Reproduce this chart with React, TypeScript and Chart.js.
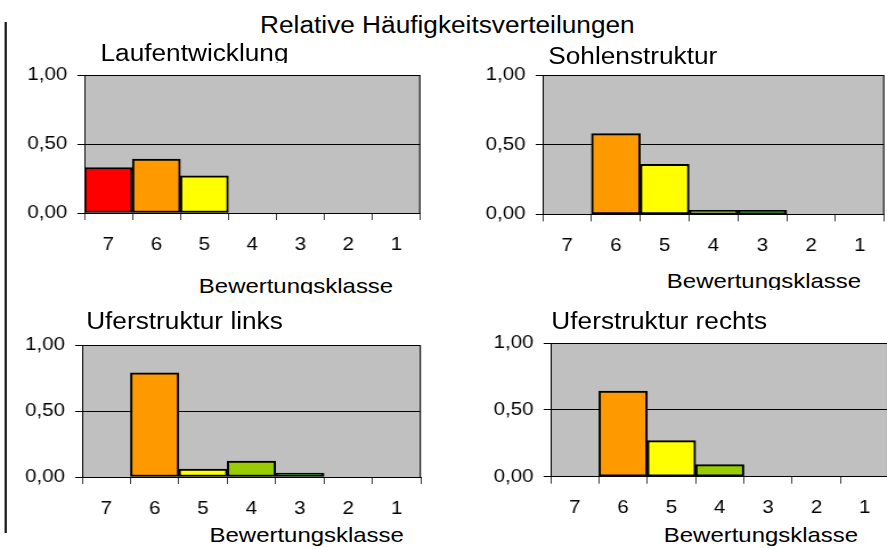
import { useEffect, useRef } from "react";
import { Chart, registerables } from "chart.js";
Chart.register(...registerables);

// ---------- data ----------
const classes = ["7", "6", "5", "4", "3", "2", "1"];
const classColors = ["#FF0000", "#FF9900", "#FFFF00", "#99CC00", "#008000", "#33CCFF", "#0000FF"];
const yTickValues = [0, 0.5, 1];
const mainTitle = "Relative Häufigkeitsverteilungen";
const axisTitle = "Bewertungsklasse";
const laufentwicklung = [0.33, 0.39, 0.27, 0, 0, 0, 0];
const sohlenstruktur = [0, 0.58, 0.36, 0.03, 0.03, 0, 0];
const uferstrukturLinks = [0, 0.79, 0.06, 0.12, 0.03, 0, 0];
const uferstrukturRechts = [0, 0.64, 0.27, 0.09, 0, 0, 0];

// ---------- layout (real px; x is divided by S inside the stretched frame) ----------
const S = 1.14;
const FONT = "'Liberation Sans', Arial, Helvetica, sans-serif";
const WY = 70;
const PT = 22;
const HXMIN = 44;

type Box = { l: number; r: number; t: number; b: number };
type Label = { cx: number; base: number; clip?: number; fs: number };
type Panel = { title: string; values: number[]; plot: Box; titleLbl: Label; axisLbl: Label };

const panels: Panel[] = [
  {
    title: "Laufentwicklung",
    values: laufentwicklung,
    plot: { l: 84, r: 420, t: 75, b: 213 },
    titleLbl: { cx: 194.5, base: 61.7, clip: 63.5, fs: 23 },
    axisLbl: { cx: 296, base: 292.5, clip: 294.5, fs: 21 },
  },
  {
    title: "Sohlenstruktur",
    values: sohlenstruktur,
    plot: { l: 542.3, r: 884, t: 75.3, b: 214.7 },
    titleLbl: { cx: 632.8, base: 64, fs: 23 },
    axisLbl: { cx: 764, base: 288, clip: 290, fs: 21 },
  },
  {
    title: "Uferstruktur links",
    values: uferstrukturLinks,
    plot: { l: 82, r: 420.7, t: 345, b: 477 },
    titleLbl: { cx: 184.5, base: 329.5, fs: 23 },
    axisLbl: { cx: 306.7, base: 541.7, clip: 546, fs: 21 },
  },
  {
    title: "Uferstruktur rechts",
    values: uferstrukturRechts,
    plot: { l: 550.7, r: 889, t: 343.3, b: 477 },
    titleLbl: { cx: 659.2, base: 329.5, fs: 23 },
    axisLbl: { cx: 761, base: 541.7, clip: 546, fs: 21 },
  },
];

const plotFrame = {
  id: "plotFrame",
  beforeDraw(chart: any) {
    const { ctx, chartArea: a } = chart;
    ctx.save();
    ctx.fillStyle = "#C0C0C0";
    ctx.fillRect(a.left, a.top, a.right - a.left, a.bottom - a.top);
    ctx.restore();
  },
  beforeDatasetsDraw(chart: any) {
    const { ctx, chartArea: a } = chart;
    ctx.save();
    ctx.strokeStyle = "#1a1a1a";
    ctx.lineWidth = 1.2;
    ctx.beginPath();
    ctx.moveTo(a.right - 0.5, a.top);
    ctx.lineTo(a.right - 0.5, a.bottom);
    ctx.stroke();
    ctx.restore();
  },
};

function PanelChart({ panel }: { panel: Panel }) {
  const ref = useRef<HTMLCanvasElement>(null);
  const l = panel.plot.l / S;
  const r = panel.plot.r / S;
  const plotH = panel.plot.b - panel.plot.t;
  const width = Math.ceil(WY + (r - l) + 3);
  const pr = width - WY - (r - l);
  const height = Math.ceil(PT + plotH + HXMIN);
  const hx = height - PT - plotH;
  const left = l - WY;
  const top = panel.plot.t - PT;

  useEffect(() => {
    const chart = new Chart(ref.current as HTMLCanvasElement, {
      type: "bar",
      data: {
        labels: classes,
        datasets: [
          {
            data: panel.values,
            backgroundColor: classColors,
            borderColor: "#000000",
            borderWidth: 2,
            borderSkipped: false,
            barPercentage: 1,
            categoryPercentage: 1,
          },
        ],
      },
      options: {
        animation: false,
        responsive: false,
        devicePixelRatio: 1,
        layout: { padding: { top: PT, right: pr, left: 0, bottom: 0 } },
        plugins: { legend: { display: false }, tooltip: { enabled: false }, title: { display: false } },
        scales: {
          x: {
            grid: { offset: true, drawOnChartArea: false, tickLength: 7, color: "#404040", lineWidth: 1 },
            border: { color: "#000000", width: 1 },
            ticks: { font: { family: FONT, size: 18 }, color: "#000000", padding: 14, maxRotation: 0 },
            afterFit: (s: any) => {
              s.height = hx;
            },
          },
          y: {
            min: 0,
            max: 1,
            afterBuildTicks: (s: any) => {
              s.ticks = yTickValues.map((v) => ({ value: v }));
            },
            afterFit: (s: any) => {
              s.width = WY;
            },
            ticks: {
              font: { family: FONT, size: 18 },
              color: "#000000",
              padding: 8.8,
              callback: (v: any) => Number(v).toFixed(2).replace(".", ","),
            },
            grid: { color: "#000000", lineWidth: 1, tickLength: 6.1 },
            border: { color: "#000000", width: 1 },
          },
        },
      },
      plugins: [plotFrame],
    });
    return () => chart.destroy();
  }, []);

  return (
    <canvas
      ref={ref}
      width={width}
      height={height}
      style={{ position: "absolute", left, top, width, height }}
    />
  );
}

function TextLabel({ text, lbl }: { text: string; lbl: Label }) {
  const top = lbl.base - 0.8465 * lbl.fs;
  const bottom = lbl.clip ?? lbl.base + lbl.fs * 0.3;
  return (
    <div
      style={{
        position: "absolute",
        left: lbl.cx / S - 300,
        width: 600,
        top,
        height: bottom - top,
        overflow: "hidden",
        textAlign: "center",
        fontFamily: FONT,
        fontSize: lbl.fs,
        lineHeight: lbl.fs + "px",
        whiteSpace: "nowrap",
        color: "#000000",
      }}
    >
      {text}
    </div>
  );
}

export default function App() {
  return (
    <div
      style={{
        position: "fixed",
        left: 0,
        top: 0,
        width: 887 / S,
        height: 549,
        overflow: "hidden",
        background: "#ffffff",
        transform: `scaleX(${S})`,
        transformOrigin: "0 0",
      }}
    >
      <div
        style={{
          position: "absolute",
          left: 4.3 / S,
          top: 22,
          width: 2 / S,
          height: 511,
          background: "#1a1a1a",
        }}
      />
      <TextLabel text={mainTitle} lbl={{ cx: 447.4, base: 33.5, fs: 23 }} />
      {panels.map((p) => (
        <PanelChart key={p.title} panel={p} />
      ))}
      {panels.map((p) => (
        <TextLabel key={p.title + "-t"} text={p.title} lbl={p.titleLbl} />
      ))}
      {panels.map((p) => (
        <TextLabel key={p.title + "-a"} text={axisTitle} lbl={p.axisLbl} />
      ))}
    </div>
  );
}
